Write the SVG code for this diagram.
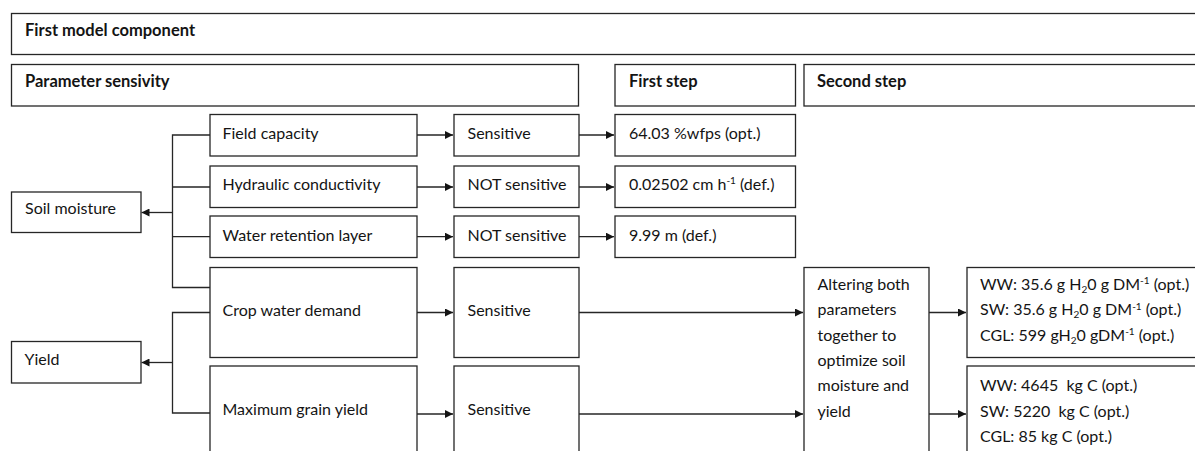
<svg xmlns="http://www.w3.org/2000/svg" width="1195" height="451" viewBox="0 0 1195 451">
  <style>
    .box { fill: #ffffff; stroke: #262626; stroke-width: 1.3; }
    .t { font-family: Lato, "Liberation Sans", sans-serif; font-size: 16px; fill: #141414; }
    .h { font-weight: bold; font-size: 16.5px; }
    .wire { fill: none; stroke: #262626; stroke-width: 1.3; }
    .arr { fill: none; stroke: #262626; stroke-width: 1.3; marker-end: url(#head); }
    .sup { font-size: 10px; }
  </style>
  <defs>
    <marker id="head" viewBox="0 0 10 10" refX="10" refY="5" markerUnits="userSpaceOnUse" markerWidth="8" markerHeight="8" orient="auto">
      <path d="M0,0 L10,5 L0,10 z" fill="#141414"/>
    </marker>
  </defs>
  <rect width="1195" height="451" fill="#ffffff"/>

  <!-- header bands -->
  <g id="first-model-component">
    <rect class="box" x="11.5" y="13.5" width="1200" height="41"/>
    <text class="t h" x="25" y="36">First model component</text>
  </g>
  <g id="parameter-sensivity">
    <rect class="box" x="11.5" y="64.5" width="567" height="41.5"/>
    <text class="t h" x="25" y="86.5">Parameter sensivity</text>
  </g>
  <g id="first-step">
    <rect class="box" x="615" y="64.5" width="180.5" height="41.5"/>
    <text class="t h" x="629" y="86.5">First step</text>
  </g>
  <g id="second-step">
    <rect class="box" x="804" y="64.5" width="400" height="41.5"/>
    <text class="t h" x="817" y="86.5">Second step</text>
  </g>

  <!-- targets -->
  <g id="soil-moisture">
    <rect class="box" x="11.5" y="192" width="129.5" height="40.5"/>
    <text class="t" x="25" y="213.5">Soil moisture</text>
  </g>
  <g id="yield">
    <rect class="box" x="11.5" y="341.5" width="129.5" height="41.5"/>
    <text class="t" x="24.5" y="365">Yield</text>
  </g>

  <!-- parameters -->
  <g id="field-capacity">
    <rect class="box" x="210" y="114.5" width="207" height="41.5"/>
    <text class="t" x="222.5" y="138.5">Field capacity</text>
  </g>
  <g id="hydraulic-conductivity">
    <rect class="box" x="210" y="166" width="207" height="41.5"/>
    <text class="t" x="222.5" y="189.5">Hydraulic conductivity</text>
  </g>
  <g id="water-retention-layer">
    <rect class="box" x="210" y="216" width="207" height="41.5"/>
    <text class="t" x="222.5" y="240.5">Water retention layer</text>
  </g>
  <g id="crop-water-demand">
    <rect class="box" x="210" y="267.5" width="207" height="90"/>
    <text class="t" x="222.5" y="315.5">Crop water demand</text>
  </g>
  <g id="maximum-grain-yield">
    <rect class="box" x="210" y="366" width="207" height="110"/>
    <text class="t" x="222.5" y="415">Maximum grain yield</text>
  </g>

  <!-- sensitivity results -->
  <g id="sens-field-capacity">
    <rect class="box" x="454" y="114.5" width="125" height="41.5"/>
    <text class="t" x="467.5" y="138.5">Sensitive</text>
  </g>
  <g id="sens-hydraulic-conductivity">
    <rect class="box" x="454" y="166" width="125" height="41.5"/>
    <text class="t" x="467.5" y="189.5">NOT sensitive</text>
  </g>
  <g id="sens-water-retention-layer">
    <rect class="box" x="454" y="216" width="125" height="41.5"/>
    <text class="t" x="467.5" y="240.5">NOT sensitive</text>
  </g>
  <g id="sens-crop-water-demand">
    <rect class="box" x="454" y="267.5" width="125" height="90"/>
    <text class="t" x="467.5" y="315.5">Sensitive</text>
  </g>
  <g id="sens-maximum-grain-yield">
    <rect class="box" x="454" y="366" width="125" height="110"/>
    <text class="t" x="467.5" y="415">Sensitive</text>
  </g>

  <!-- first step values -->
  <g id="value-field-capacity">
    <rect class="box" x="615" y="114.5" width="180.5" height="41.5"/>
    <text class="t" x="629" y="138.5">64.03 %wfps (opt.)</text>
  </g>
  <g id="value-hydraulic-conductivity">
    <rect class="box" x="615" y="166" width="180.5" height="41.5"/>
    <text class="t" x="629" y="189.5">0.02502 cm h<tspan class="sup" dy="-5.5">-1</tspan><tspan dy="5.5"> (def.)</tspan></text>
  </g>
  <g id="value-water-retention-layer">
    <rect class="box" x="615" y="216" width="180.5" height="41.5"/>
    <text class="t" x="629" y="240.5">9.99 m (def.)</text>
  </g>

  <!-- second step -->
  <g id="joint-optimisation">
    <rect class="box" x="804" y="267.5" width="125" height="210"/>
    <text class="t" x="817.5" y="289.5">Altering both</text>
    <text class="t" x="817.5" y="315">parameters</text>
    <text class="t" x="817.5" y="340.5">together to</text>
    <text class="t" x="817.5" y="366">optimize soil</text>
    <text class="t" x="817.5" y="391">moisture and</text>
    <text class="t" x="817.5" y="416.5">yield</text>
  </g>
  <g id="result-crop-water-demand">
    <rect class="box" x="967" y="267.5" width="240" height="90"/>
    <text class="t" x="980" y="289.5">WW: 35.6 g H<tspan class="sup" dy="3">2</tspan><tspan dy="-3">0 g DM</tspan><tspan class="sup" dy="-5.5">-1</tspan><tspan dy="5.5"> (opt.)</tspan></text>
    <text class="t" x="980" y="315">SW: 35.6 g H<tspan class="sup" dy="3">2</tspan><tspan dy="-3">0 g DM</tspan><tspan class="sup" dy="-5.5">-1</tspan><tspan dy="5.5"> (opt.)</tspan></text>
    <text class="t" x="980" y="340.5">CGL: 599 gH<tspan class="sup" dy="3">2</tspan><tspan dy="-3">0 gDM</tspan><tspan class="sup" dy="-5.5">-1</tspan><tspan dy="5.5"> (opt.)</tspan></text>
  </g>
  <g id="result-maximum-grain-yield">
    <rect class="box" x="967" y="366" width="240" height="110"/>
    <text class="t" x="980" y="391">WW: 4645&#160; kg C (opt.)</text>
    <text class="t" x="980" y="416.5">SW: 5220&#160; kg C (opt.)</text>
    <text class="t" x="980" y="441.5">CGL: 85 kg C (opt.)</text>
  </g>

  <!-- connectors -->
  <g id="connectors">
    <!-- soil moisture bus -->
    <path class="wire" d="M210,135 H172.5 V287.5 H210 M172.5,187 H210 M172.5,236.7 H210"/>
    <path class="arr" d="M172.5,212.5 H141.5"/>
    <!-- yield bus -->
    <path class="wire" d="M210,312.5 H172.5 V413 H210"/>
    <path class="arr" d="M172.5,362.5 H141.5"/>
    <!-- parameter to sensitivity -->
    <path class="arr" d="M417,135 H453"/>
    <path class="arr" d="M417,187 H453"/>
    <path class="arr" d="M417,236.7 H453"/>
    <path class="arr" d="M417,312.5 H453"/>
    <path class="arr" d="M417,414 H453"/>
    <!-- sensitivity to first step values -->
    <path class="arr" d="M579,135 H614"/>
    <path class="arr" d="M579,187 H614"/>
    <path class="arr" d="M579,236.7 H614"/>
    <!-- sensitive parameters to joint optimisation -->
    <path class="arr" d="M579,312.5 H803"/>
    <path class="arr" d="M579,414 H803"/>
    <!-- joint optimisation to results -->
    <path class="arr" d="M929,312.5 H966"/>
    <path class="arr" d="M929,414 H966"/>
  </g>
</svg>
